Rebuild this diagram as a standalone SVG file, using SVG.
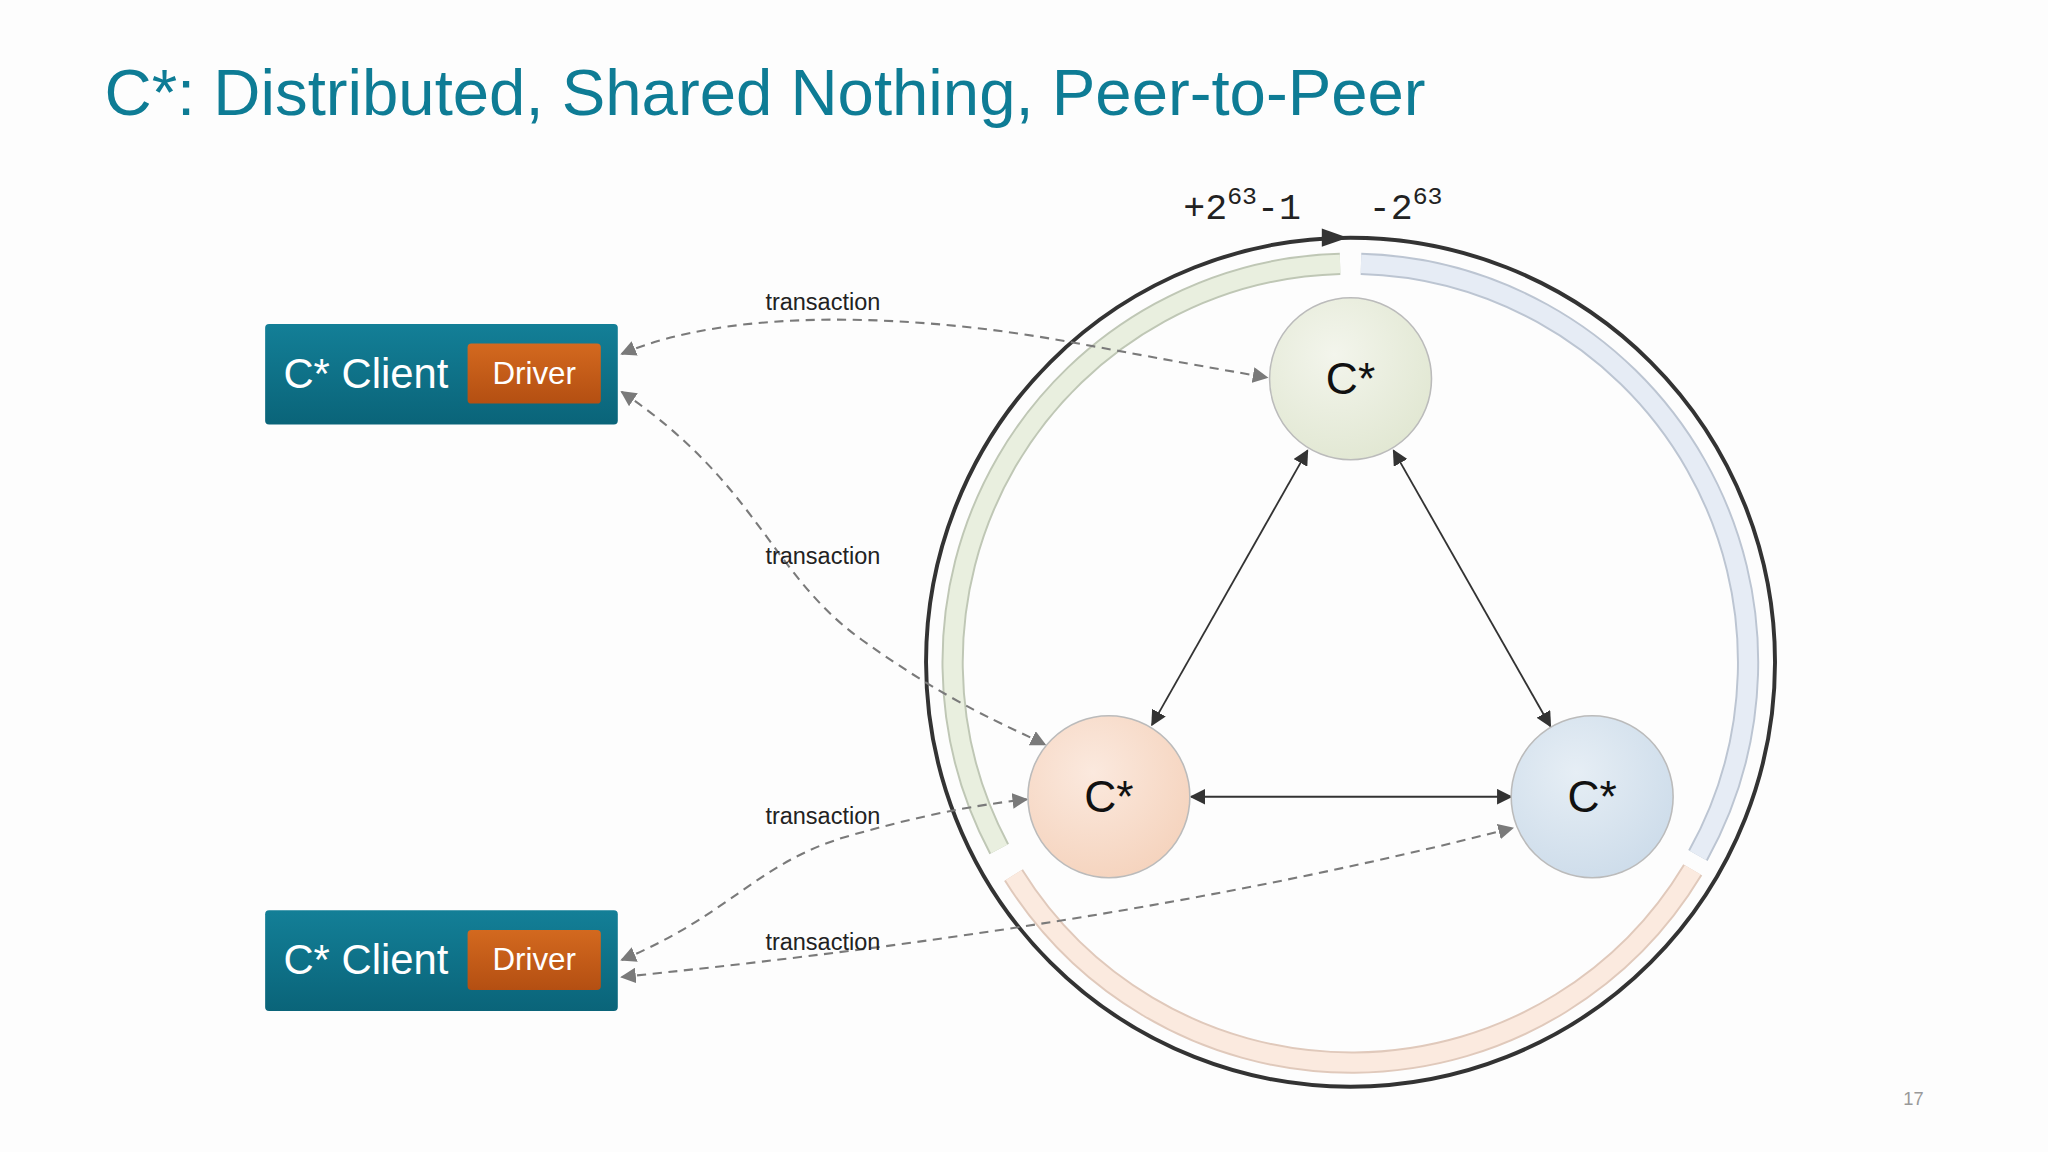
<svg xmlns="http://www.w3.org/2000/svg" width="2048" height="1152" viewBox="0 0 2048 1152">
<defs>
<style>
.t{font-family:"Liberation Sans",Arial,sans-serif}
.lbl{font-size:18px;fill:#222}
.dash{fill:none;stroke:#7a7a7a;stroke-width:1.6;stroke-dasharray:7 5;marker-start:url(#ga);marker-end:url(#ga)}
.sol{fill:none;stroke:#333;stroke-width:1.4;marker-start:url(#ba);marker-end:url(#ba)}
.nodec{stroke:#bbb;stroke-width:1.2}
.ct{font-size:34px;fill:#111;text-anchor:middle}
</style>
<marker id="ga" viewBox="0 0 10 10" refX="9" refY="5" markerWidth="12" markerHeight="12" markerUnits="userSpaceOnUse" orient="auto-start-reverse"><path d="M0,0L10,5L0,10z" fill="#7a7a7a"/></marker>
<marker id="ba" viewBox="0 0 10 10" refX="9" refY="5" markerWidth="12" markerHeight="12" markerUnits="userSpaceOnUse" orient="auto-start-reverse"><path d="M0,0L10,5L0,10z" fill="#333"/></marker>
<radialGradient id="gg" cx="0.4" cy="0.35" r="0.7"><stop offset="0" stop-color="#f3f5ec"/><stop offset="1" stop-color="#e1e7d2"/></radialGradient>
<radialGradient id="gp" cx="0.4" cy="0.35" r="0.7"><stop offset="0" stop-color="#fbe9de"/><stop offset="1" stop-color="#f5d3bd"/></radialGradient>
<radialGradient id="gb" cx="0.4" cy="0.35" r="0.7"><stop offset="0" stop-color="#e6eef5"/><stop offset="1" stop-color="#cddcea"/></radialGradient>
<linearGradient id="cb" x1="0" y1="0" x2="0" y2="1"><stop offset="0" stop-color="#137f97"/><stop offset="1" stop-color="#0a6479"/></linearGradient>
<linearGradient id="db" x1="0" y1="0" x2="0" y2="1"><stop offset="0" stop-color="#d3691f"/><stop offset="1" stop-color="#b44f12"/></linearGradient>
</defs>
<rect width="2048" height="1152" fill="#fdfdfd"/>
<g transform="scale(1.30612)">
<text class="t" x="80" y="88" font-size="50" fill="#0e7c95">C*: Distributed, Shared Nothing, Peer-to-Peer</text>

<g id="ring">
<circle cx="1034" cy="507" r="325" fill="none" stroke="#333" stroke-width="3"/>
<path d="M1012,182L1030,182" stroke="none"/>
<path d="M1012,175L1032,182L1012,189z" fill="#333"/>
<text x="906" y="168" font-family="Liberation Mono,monospace" font-size="28" fill="#222">+2<tspan dy="-12" font-size="19">63</tspan><tspan dy="12">-1</tspan></text>
<text x="1048" y="168" font-family="Liberation Mono,monospace" font-size="28" fill="#222">-2<tspan dy="-12" font-size="19">63</tspan></text>
<path d="M1026,202 A305,305 0 0 0 765,650" fill="none" stroke="#bfc7b5" stroke-width="17"/>
<path d="M1026,202 A305,305 0 0 0 765,650" fill="none" stroke="#e9efdf" stroke-width="14"/>
<path d="M1042,202 A305,305 0 0 1 1300,655" fill="none" stroke="#bcc5d2" stroke-width="17"/>
<path d="M1042,202 A305,305 0 0 1 1300,655" fill="none" stroke="#e6ecf5" stroke-width="14"/>
<path d="M776,670 A305,305 0 0 0 1296,666" fill="none" stroke="#e0c9bb" stroke-width="17"/>
<path d="M776,670 A305,305 0 0 0 1296,666" fill="none" stroke="#fbeadf" stroke-width="14"/>
</g>

<g id="connectors">
<path class="dash" d="M476,271 C560,235 700,240 820,262 S930,282 970,289"/>
<path class="dash" d="M476,300 C580,370 590,440 660,490 S770,555 800,570"/>
<path class="dash" d="M476,735 C560,700 580,660 650,640 S760,615 786,612"/>
<path class="dash" d="M476,748 C650,730 900,700 1158,634"/>
<path class="sol" d="M1001,345 L882,555"/>
<path class="sol" d="M1067,345 L1187,556"/>
<path class="sol" d="M912,610 L1157,610"/>
<text class="t lbl" x="586" y="237">transaction</text>
<text class="t lbl" x="586" y="432">transaction</text>
<text class="t lbl" x="586" y="631">transaction</text>
<text class="t lbl" x="586" y="727">transaction</text>
</g>

<g id="node-top"><circle class="nodec" cx="1034" cy="290" r="62" fill="url(#gg)"/><text class="t ct" x="1034" y="302">C*</text></g>
<g id="node-left"><circle class="nodec" cx="849" cy="610" r="62" fill="url(#gp)"/><text class="t ct" x="849" y="622">C*</text></g>
<g id="node-right"><circle class="nodec" cx="1219" cy="610" r="62" fill="url(#gb)"/><text class="t ct" x="1219" y="622">C*</text></g>

<g id="client1">
<rect x="203" y="248" width="270" height="77" rx="3" fill="url(#cb)"/>
<text class="t" x="217" y="297" font-size="32" fill="#fff">C* Client</text>
<rect x="358" y="263" width="102" height="46" rx="3" fill="url(#db)"/>
<text class="t" x="409" y="294" font-size="24" fill="#fff" text-anchor="middle">Driver</text>
</g>
<g id="client2">
<rect x="203" y="697" width="270" height="77" rx="3" fill="url(#cb)"/>
<text class="t" x="217" y="746" font-size="32" fill="#fff">C* Client</text>
<rect x="358" y="712" width="102" height="46" rx="3" fill="url(#db)"/>
<text class="t" x="409" y="743" font-size="24" fill="#fff" text-anchor="middle">Driver</text>
</g>
<text class="t" x="1465" y="846" font-size="14" fill="#999" text-anchor="middle">17</text>
</g>
</svg>
